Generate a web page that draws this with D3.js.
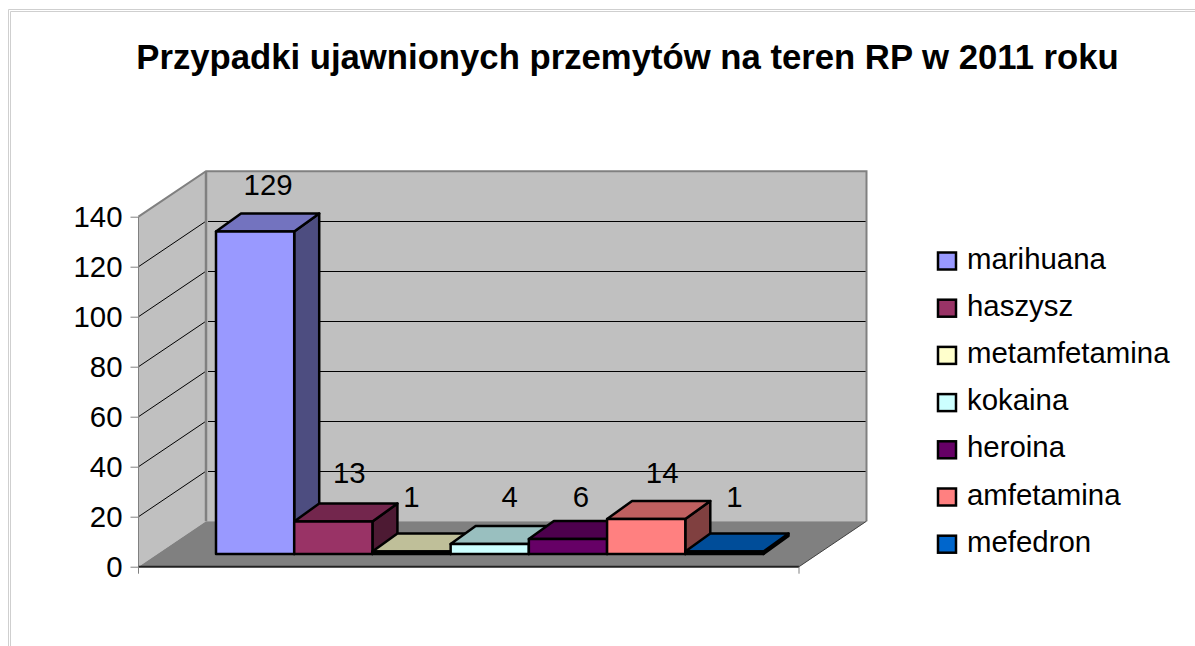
<!DOCTYPE html>
<html><head><meta charset="utf-8">
<script src="https://cdn.jsdelivr.net/npm/d3@7"></script>
<style>html,body{margin:0;padding:0;background:#fff;overflow:hidden}svg{display:block}
text{font-family:"Liberation Sans",Arial,sans-serif;fill:#000}</style></head>
<body><svg id="c" width="1195" height="646"></svg>
<script>
const titleText = "Przypadki ujawnionych przemytów na teren RP w 2011 roku";
const categories = ["marihuana","haszysz","metamfetamina","kokaina","heroina","amfetamina","mefedron"];
const values = [129,13,1,4,6,14,1];
const colors = ["#9999FF","#993366","#FFFFCC","#CCFFFF","#660066","#FF8080","#0066CC"];
const yTicks = [0,20,40,60,80,100,120,140];

// layout
const labelNudgeX = [13,16,0,20,13,16,10];
const labelBaseY  = [-18.5,-20.8,-26.8,-18.8,-13.8,-17.8,-26.8];
const wallDepth = {dx:67.5, dy:-45.5};
const barDepth  = {dx:25, dy:-18};
const barFloorLift = 12.7;

const svg = d3.select("#c");
const y = d3.scaleLinear().domain([0,140]).range([566.7,216.7]);
const xFront = [138.5,799];
const x = d3.scaleBand().domain(categories).range([216,763.5]).padding(0);
const pts = a => a.map(p=>p.join(",")).join(" ");

// outer frame
const frame = svg.append("g").attr("fill","none").attr("stroke","#cfcfcf").attr("stroke-width",1);
frame.append("path").attr("d","M1195,9.5H8.5V646");
frame.append("path").attr("d","M1195,11.5H10.5V646");

// walls and floor
const bx = xFront.map(v=>v+wallDepth.dx);
const yb = v => y(v)+wallDepth.dy;
svg.append("polygon").attr("fill","#C0C0C0")
  .attr("points",pts([[bx[0],yb(140)],[bx[1],yb(140)],[bx[1],yb(0)],[bx[0],yb(0)]]));
svg.append("polygon").attr("fill","#C0C0C0")
  .attr("points",pts([[xFront[0],y(140)],[bx[0],yb(140)],[bx[0],yb(0)],[xFront[0],y(0)]]));
svg.append("polygon").attr("fill","#808080")
  .attr("points",pts([[xFront[0],y(0)],[bx[0],yb(0)],[bx[1],yb(0)],[xFront[1],y(0)]]));

// gridlines
const grid = svg.append("g").attr("stroke","#000").attr("stroke-width",1).attr("fill","none");
yTicks.filter(v=>v>0&&v<140).forEach(v=>{
  const s = `M${xFront[0]},${y(v)}L${bx[0]},${yb(v)}`;
  grid.append("path").attr("d",s+`M${bx[0]+2},${Math.round(yb(v))+.5}H${bx[1]}`);
});

// wall edges
const edge = svg.append("g").attr("fill","none").attr("stroke","#808080");
edge.append("path").attr("stroke-width",2)
  .attr("d",`M${xFront[0]},${y(140)}L${bx[0]},${yb(140)}H${bx[1]}V${yb(0)}`);
edge.append("path").attr("stroke-width",2.5).attr("d",`M${bx[0]},${yb(140)}V${yb(0)}`);
edge.append("path").attr("stroke-width",1).attr("d",`M${xFront[0]},${y(0)}V${y(140)}`);
svg.append("path").attr("fill","none").attr("stroke","#404040").attr("stroke-width",1)
  .attr("d",`M${xFront[1]},${y(0)}L${bx[1]},${yb(0)}`);
svg.append("path").attr("fill","none").attr("stroke","#222").attr("stroke-width",2)
  .attr("d",`M${xFront[0]},${y(0)}H${xFront[1]}`);

// y axis
const axis = svg.append("g").attr("transform",`translate(${xFront[0]},0)`)
  .call(d3.axisLeft(y).tickValues(yTicks).tickSize(8).tickPadding(8));
axis.select(".domain").remove();
axis.selectAll("line").attr("stroke","#808080");
axis.selectAll("text").attr("font-size",29.4).attr("font-family","Liberation Sans").attr("fill","#000");

// bottom ticks
svg.append("g").attr("stroke","#808080").selectAll("line").data(xFront).join("line")
  .attr("x1",d=>d).attr("x2",d=>d).attr("y1",y(0)).attr("y2",y(0)+7);

// bars
const h = v => y(0)-y(v);
const barBase = y(0)-barFloorLift;
const bars = svg.append("g").attr("stroke","#000").attr("stroke-width",2.5).attr("stroke-linejoin","round");
categories.forEach((c,i)=>{
  const x0=x(c), x1=x0+x.bandwidth(), yt=barBase-h(values[i]), yB=barBase, d=barDepth;
  const col=d3.rgb(colors[i]);
  const shade=k=>d3.rgb(col.r*k,col.g*k,col.b*k).formatHex();
  const g=bars.append("g");
  g.append("polygon").attr("fill",shade(.5))
    .attr("points",pts([[x1,yt],[x1+d.dx,yt+d.dy],[x1+d.dx,yB+d.dy],[x1,yB]]));
  g.append("polygon").attr("fill",shade(.75))
    .attr("points",pts([[x0,yt],[x0+d.dx,yt+d.dy],[x1+d.dx,yt+d.dy],[x1,yt]]));
  g.append("rect").attr("fill",colors[i]).attr("x",x0).attr("y",yt).attr("width",x1-x0).attr("height",yB-yt);
});

// value labels
svg.append("g").attr("font-size",29.4).attr("text-anchor","middle")
  .selectAll("text").data(categories).join("text")
  .attr("x",(c,i)=>x(c)+x.bandwidth()/2+labelNudgeX[i])
  .attr("y",(c,i)=>barBase-h(values[i])+barDepth.dy+labelBaseY[i])
  .text((c,i)=>values[i]);

// title
svg.append("text").attr("x",627.5).attr("y",69).attr("text-anchor","middle")
  .attr("font-size",34.7).attr("font-weight","bold").text(titleText);

// legend
const leg = svg.append("g").selectAll("g").data(categories).join("g")
  .attr("transform",(c,i)=>`translate(938,${252.5+i*47.2})`);
leg.append("rect").attr("width",18).attr("height",17).attr("fill",(c,i)=>colors[i])
  .attr("stroke","#000").attr("stroke-width",2.5);
leg.append("text").attr("x",29).attr("y",16).attr("font-size",29.4).text(c=>c);
</script></body></html>
